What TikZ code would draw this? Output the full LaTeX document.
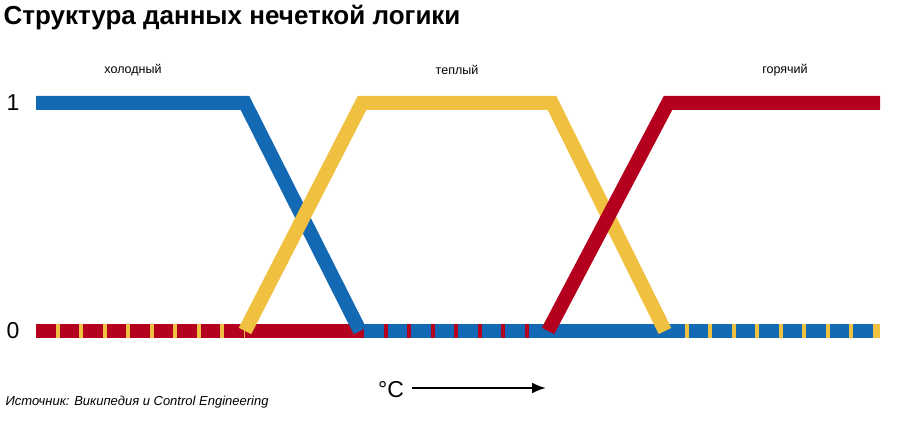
\documentclass[tikz,border=0pt]{standalone}
\usepackage{fontspec}
\setmainfont{Liberation Sans}
\usetikzlibrary{arrows.meta}
\definecolor{cblue}{HTML}{1469B4}
\definecolor{cyel}{HTML}{F0C040}
\definecolor{cred}{HTML}{B4001E}
\tikzset{
  curve/.style={line width=14pt, line join=miter},
  dashes/.style={line width=14pt, dash pattern=on 19.5pt off 4pt},
  lbl/.style={font=\fontsize{12.5}{14}\selectfont},
  axis/.style={font=\fontsize{23}{25}\selectfont}
}
\begin{document}
\begin{tikzpicture}[x=1pt,y=-1pt]
    \useasboundingbox (0,0) rectangle (900,422);

    \coordinate (l0) at (36,331);
    \coordinate (l1) at (36,103);
    \coordinate (r0) at (880,331);
    \coordinate (r1) at (880,103);
    \coordinate (ba) at (245,103);
    \coordinate (bb) at (360,331);
    \coordinate (ya) at (245,331);
    \coordinate (yb) at (362,103);
    \coordinate (yc) at (552,103);
    \coordinate (yd) at (665,331);
    \coordinate (ra) at (548,331);
    \coordinate (rb) at (668,103);

    % bottom line, left part
    \draw [cyel, curve] (l0) -- (ya);
    \draw [cred, dashes] (l0) -- (ya);
    \draw [cred, curve] (ya) -- (bb);
    % bottom line, middle part
    \draw [cred, curve] (bb) -- (ra);
    \draw [cblue, dashes] ([xshift=4pt]bb) -- (ra);
    \draw [cblue, curve] (ra) -- (yd);
    % bottom line, right part
    \draw [cyel, curve] (yd) -- (r0);
    \draw [cblue, dashes] (yd) -- ([xshift=-4pt]r0);

    % membership curves
    \draw [cblue, curve] (l1) -- (ba) -- (bb);
    \draw [cyel, curve] (ya) -- (yb) -- (yc) -- (yd);
    \draw [cred, curve] (ra) -- (rb) -- (r1);

    \node [anchor=west, font=\bfseries\fontsize{26}{28}\selectfont] (title) at (0,18) {Структура данных нечеткой логики};
    \node [lbl] (cold) at (133,70) {холодный};
    \node [lbl] (warm) at (457,70) {теплый};
    \node [lbl] (hot) at (785,70) {горячий};
    \node [axis] (one) at (13,103) {1};
    \node [axis] (zero) at (13,331) {0};
    \node [axis] (deg) at (391,390) {°C};
    \coordinate (tail) at (412,388);
    \coordinate (tip) at (546,388);
    \draw [-{Latex[length=14pt,width=11pt]}, line width=2.2pt] (tail) -- (tip);
    \node [anchor=west, font=\itshape\fontsize{13}{15}\selectfont] (src) at (2,402) {Источник: Википедия и Control Engineering};

\end{tikzpicture}
\end{document}
